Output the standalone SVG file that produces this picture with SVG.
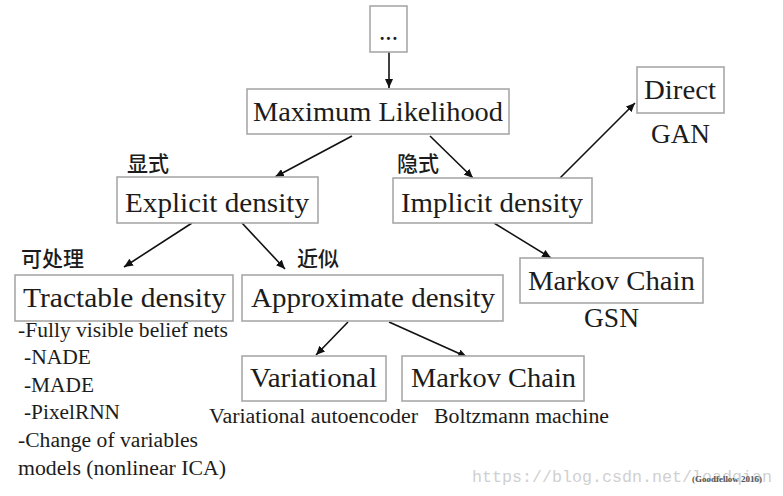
<svg xmlns="http://www.w3.org/2000/svg" width="783" height="496" viewBox="0 0 783 496">
<defs>
<marker id="ah" markerWidth="10" markerHeight="8" refX="9" refY="4" orient="auto" markerUnits="userSpaceOnUse">
<path d="M0,0 L9,4 L0,8 Z" fill="#111"/>
</marker>
<style>
.box{fill:#fff;stroke:#a8a8a8;stroke-width:1.6}
.t{font-family:"Liberation Serif","Times New Roman",serif;font-size:27px;fill:#1c1c1c}
.s{font-family:"Liberation Serif","Times New Roman",serif;font-size:20px;fill:#1c1c1c}
.cn{font-family:"Noto Sans CJK SC","Noto Sans",sans-serif;font-size:21px;font-weight:500;fill:#1c1c1c}
.e{stroke:#111;stroke-width:1.6;fill:none;marker-end:url(#ah)}
</style>
</defs>
<rect width="783" height="496" fill="#fff"/>
<g id="connectors">
<line class="e" x1="389" y1="52" x2="389" y2="88"/>
<line class="e" x1="352" y1="136" x2="275" y2="177"/>
<line class="e" x1="430" y1="136" x2="473" y2="178"/>
<line class="e" x1="560" y1="178" x2="635" y2="103"/>
<line class="e" x1="192" y1="223" x2="124" y2="267"/>
<line class="e" x1="242" y1="223" x2="285" y2="269"/>
<line class="e" x1="494" y1="223" x2="551" y2="258"/>
<line class="e" x1="348" y1="322" x2="316" y2="355"/>
<line class="e" x1="389" y1="322" x2="467" y2="357"/>
</g>
<g id="dots"><rect class="box" x="370" y="6" width="37" height="46"/><text class="t" x="379" y="40" textLength="19" lengthAdjust="spacingAndGlyphs">...</text></g>
<g id="ml"><rect class="box" x="247" y="89" width="262" height="45"/><text class="t" x="253" y="121" textLength="250" lengthAdjust="spacingAndGlyphs">Maximum Likelihood</text></g>
<g id="direct"><rect class="box" x="637" y="67" width="87" height="46"/><text class="t" x="644" y="99" textLength="72" lengthAdjust="spacingAndGlyphs">Direct</text><text class="t" x="651" y="143" textLength="59" lengthAdjust="spacingAndGlyphs">GAN</text></g>
<g id="explicit"><text class="cn" x="127" y="171">显式</text><rect class="box" x="117" y="177" width="201" height="46"/><text class="t" x="125" y="212" textLength="184" lengthAdjust="spacingAndGlyphs">Explicit density</text></g>
<g id="implicit"><text class="cn" x="397" y="171">隐式</text><rect class="box" x="393" y="178" width="199" height="45"/><text class="t" x="401" y="212" textLength="182" lengthAdjust="spacingAndGlyphs">Implicit density</text></g>
<g id="tractable"><text class="cn" x="21" y="266">可处理</text><rect class="box" x="15" y="275" width="218" height="46"/><text class="t" x="23" y="307" textLength="203" lengthAdjust="spacingAndGlyphs">Tractable density</text>
<text class="s" x="18" y="337" textLength="210" lengthAdjust="spacingAndGlyphs">-Fully visible belief nets</text>
<text class="s" x="24" y="364" textLength="67" lengthAdjust="spacingAndGlyphs">-NADE</text>
<text class="s" x="24" y="392" textLength="70" lengthAdjust="spacingAndGlyphs">-MADE</text>
<text class="s" x="24" y="419" textLength="96" lengthAdjust="spacingAndGlyphs">-PixelRNN</text>
<text class="s" x="18" y="447" textLength="180" lengthAdjust="spacingAndGlyphs">-Change of variables</text>
<text class="s" x="18" y="475" textLength="208" lengthAdjust="spacingAndGlyphs">models (nonlinear ICA)</text></g>
<g id="approx"><text class="cn" x="297" y="266">近似</text><rect class="box" x="242" y="275" width="261" height="46"/><text class="t" x="251" y="307" textLength="244" lengthAdjust="spacingAndGlyphs">Approximate density</text></g>
<g id="markov-gsn"><rect class="box" x="520" y="258" width="183" height="45"/><text class="t" x="528" y="290" textLength="167" lengthAdjust="spacingAndGlyphs">Markov Chain</text><text class="t" x="584" y="327" textLength="55" lengthAdjust="spacingAndGlyphs">GSN</text></g>
<g id="variational"><rect class="box" x="242" y="356" width="144" height="45"/><text class="t" x="250" y="387" textLength="127" lengthAdjust="spacingAndGlyphs">Variational</text><text class="s" x="209" y="423" textLength="209" lengthAdjust="spacingAndGlyphs">Variational autoencoder</text></g>
<g id="markov-b"><rect class="box" x="402" y="356" width="182" height="45"/><text class="t" x="411" y="387" textLength="165" lengthAdjust="spacingAndGlyphs">Markov Chain</text><text class="s" x="434" y="423" textLength="175" lengthAdjust="spacingAndGlyphs">Boltzmann machine</text></g>
<text x="472" y="482" font-family="Liberation Mono,monospace" font-size="17" fill="#d0d0d0" textLength="300" lengthAdjust="spacingAndGlyphs">https://blog.csdn.net/loadqian</text>
<text x="692" y="482" font-family="Liberation Serif,serif" font-size="8" font-weight="bold" fill="#555" textLength="70" lengthAdjust="spacingAndGlyphs">(Goodfellow 2016)</text>
</svg>
